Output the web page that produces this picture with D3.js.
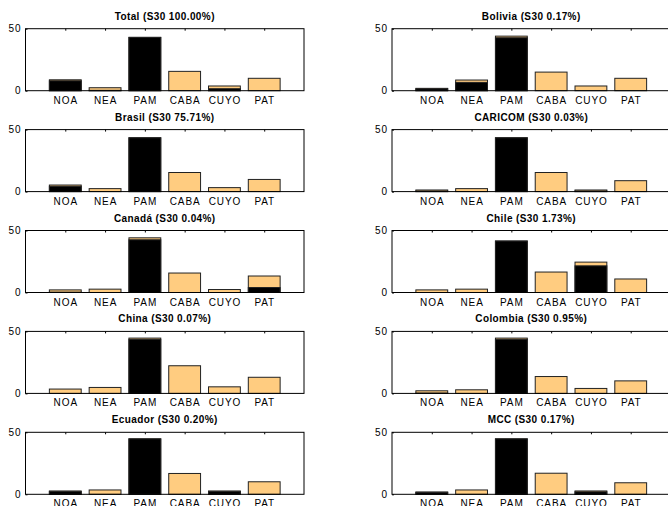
<!DOCTYPE html>
<html>
<head>
<meta charset="utf-8">
<script src="https://cdn.jsdelivr.net/npm/d3@7"></script>
<style>
  body { margin: 0; background: #fff; }
  svg { display: block; font-family: "Liberation Sans", Arial, sans-serif; }
</style>
</head>
<body>
<svg id="chart" width="668" height="506"></svg>
<script>
const regions = ["NOA", "NEA", "PAM", "CABA", "CUYO", "PAT"];
const titles = [
    "Total (S30 100.00%)", "Bolivia (S30 0.17%)",
    "Brasil (S30 75.71%)", "CARICOM (S30 0.03%)",
    "Canadá (S30 0.04%)", "Chile (S30 1.73%)",
    "China (S30 0.07%)", "Colombia (S30 0.95%)",
    "Ecuador (S30 0.20%)", "MCC (S30 0.17%)"
];
// orange bars: total share per region
const totalValues = [
    [8.8, 2.4, 43.0, 15.6, 3.8, 10.0],
    [1.9, 8.6, 44.0, 15.0, 3.8, 10.0],
    [5.3, 2.4, 43.4, 15.4, 3.2, 9.8],
    [1.3, 2.4, 43.4, 15.4, 1.3, 8.8],
    [2.1, 2.7, 44.1, 15.7, 2.4, 13.3],
    [2.1, 2.7, 41.5, 16.5, 24.5, 10.9],
    [3.5, 4.8, 44.6, 22.3, 5.3, 13.0],
    [2.1, 2.9, 44.6, 13.6, 4.0, 10.1],
    [2.7, 3.5, 44.7, 16.8, 2.7, 10.1],
    [1.9, 3.5, 44.7, 17.0, 2.7, 9.3]
];
// black bars: partner share per region
const blackValues = [
    [8.0, 0.3, 43.0, 0, 1.6, 0],
    [1.5, 6.7, 42.7, 0, 0, 0],
    [4.3, 0, 43.4, 0, 0, 0],
    [0.5, 0, 43.4, 0, 0.5, 0],
    [0.3, 0, 42.5, 0, 0, 4.0],
    [0, 0, 41.5, 0, 21.5, 0],
    [0, 0, 43.6, 0, 0, 0],
    [0.3, 0, 43.6, 0, 0, 0],
    [2.2, 0, 44.7, 0, 2.2, 0],
    [1.5, 0, 44.7, 0, 2.0, 0]
];

const svg = d3.select("#chart");
svg.append("rect").attr("width", 668).attr("height", 506).attr("fill", "#fff");

const panelW = 278.5;
const panelH = 62;
const colLeft = [25.5, 392];
const rowTop = [28.7, 129.6, 230.5, 331.4, 432.3];

const x = d3.scaleLinear().domain([0, 7]).range([0, panelW]);
const y = d3.scaleLinear().domain([0, 50]).range([panelH, 0]);
const barW = x(0.8) - x(0);

titles.forEach((title, p) => {
    const g = svg.append("g")
        .attr("transform", `translate(${colLeft[p % 2]},${rowTop[Math.floor(p / 2)]})`);

    // orange bars
    g.selectAll("rect.total")
        .data(totalValues[p])
        .enter()
        .append("rect")
        .attr("class", "total")
        .attr("x", (d, i) => x(i + 1) - barW / 2)
        .attr("y", (d) => y(d))
        .attr("width", barW)
        .attr("height", (d) => y(0) - y(d))
        .attr("fill", "#ffcc80")
        .attr("stroke", "#222")
        .attr("stroke-width", 1);

    // black bars
    g.selectAll("rect.black")
        .data(blackValues[p])
        .enter()
        .append("rect")
        .attr("class", "black")
        .attr("x", (d, i) => x(i + 1) - barW / 2)
        .attr("y", (d) => y(d))
        .attr("width", barW)
        .attr("height", (d) => y(0) - y(d))
        .attr("fill", "#000")
        .attr("stroke", (d) => (d > 0 ? "#222" : "none"))
        .attr("stroke-width", 1);

    const xAxis = g.append("g")
        .attr("transform", `translate(0,${panelH})`)
        .call(d3.axisBottom(x)
            .tickValues([1, 2, 3, 4, 5, 6])
            .tickFormat((d) => regions[d - 1])
            .tickSize(0)
            .tickPadding(6));
    const topAxis = g.append("g")
        .call(d3.axisTop(x).tickValues([1, 2, 3, 4, 5, 6]).tickSize(-2).tickFormat(""));
    const yAxis = g.append("g")
        .call(d3.axisLeft(y).tickValues([0, 50]).tickSize(-2).tickPadding(4));

    [xAxis, topAxis, yAxis].forEach((a) => {
        a.select(".domain").remove();
        a.selectAll("line").attr("stroke", "#000");
        a.selectAll("text")
            .attr("fill", "#000")
            .style("font-size", "10px")
            .style("letter-spacing", "0.9px");
    });

    g.append("rect")
        .attr("width", panelW)
        .attr("height", panelH)
        .attr("fill", "none")
        .attr("stroke", "#000")
        .attr("stroke-width", 1);

    g.append("text")
        .attr("x", panelW / 2)
        .attr("y", -9)
        .attr("text-anchor", "middle")
        .style("font-size", "10px")
        .style("font-weight", "bold")
        .style("letter-spacing", "0.4px")
        .text(title);
});
</script>
</body>
</html>
